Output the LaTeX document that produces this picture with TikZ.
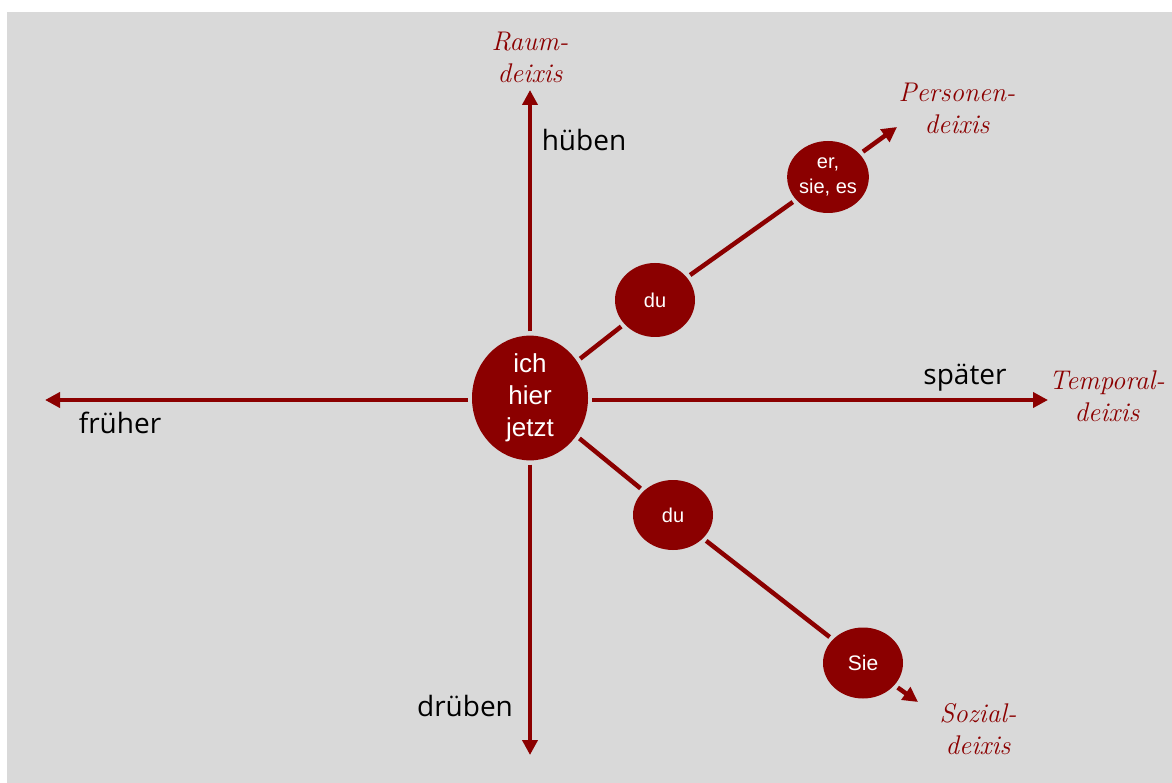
\documentclass[tikz,border=0pt]{standalone}
\usepackage{fontspec}
\newfontfamily\labelfont{Open Sans}
\newfontfamily\circfont{Liberation Sans}
\usetikzlibrary{arrows.meta,shapes.geometric}
\definecolor{bg}{HTML}{D9D9D9}
\definecolor{dred}{RGB}{139,0,0}
\begin{document}
\begin{tikzpicture}[x=1pt,y=-1pt,
  bubble/.style={ellipse, fill=dred, text=white, inner sep=0pt, align=center,
    minimum width=80pt, minimum height=72pt, font=\circfont\fontsize{20}{24}\selectfont},
  axisline/.style={draw=dred, line width=4.5pt, shorten <=4pt, -{Triangle[length=15pt,width=15pt]}},
  link/.style={draw=dred, line width=4.5pt, shorten <=4pt, shorten >=4pt},
  deix/.style={text=dred, align=center, font=\itshape\fontsize{27}{32}\selectfont},
  side/.style={text=black, font=\labelfont\fontsize{28}{32}\selectfont}]
\useasboundingbox (0,0) rectangle (1172,783);
\fill[bg] (7,12) rectangle (1172,783);

% nodes
\node[bubble, minimum width=116pt, minimum height=116pt,
      font=\circfont\fontsize{26}{32}\selectfont] (ich) at (530,398) {ich\\hier\\jetzt};
\node[bubble, minimum height=74pt] (du1) at (655,300) {du};
\node[bubble, font=\circfont\fontsize{20}{25}\selectfont] (er) at (828,177) {er,\\sie, es};
\node[bubble, minimum height=70pt] (du2) at (673,515) {du};
\node[bubble, minimum height=71pt, font=\circfont\fontsize{21}{25}\selectfont] (sie) at (863,663) {Sie};

% arrow tips
\coordinate (top) at (530,90);
\coordinate (bot) at (530,755);
\coordinate (lft) at (45,400);
\coordinate (rgt) at (1048,400);
\coordinate (ptip) at (897,127);
\coordinate (stip) at (918,702);

% axes
\draw[axisline] (ich) -- (top);
\draw[axisline] (ich) -- (bot);
\draw[axisline] (ich.west |- lft) -- (lft);
\draw[axisline] (ich.east |- rgt) -- (rgt);

% diagonals
\draw[link] (ich) -- (du1);
\draw[link] (du1) -- (er);
\draw[axisline] (er) -- (ptip);
\draw[link] (ich) -- (du2);
\draw[link] (du2) -- (sie);
\draw[axisline] (sie) -- (stip);

% labels
\node[deix] (raum) at (530,57) {Raum-\\deixis};
\node[deix] (pers) at (957,108) {Personen-\\deixis};
\node[deix] (temp) at (1107,396) {Temporal-\\deixis};
\node[deix] (soz) at (978,729) {Sozial-\\deixis};
\node[side] (hueben) at (584,140) {hüben};
\node[side] (spaeter) at (965,378) {später};
\node[side] (frueher) at (120,423) {früher};
\node[side] (drueben) at (465,706) {drüben};
\end{tikzpicture}
\end{document}
